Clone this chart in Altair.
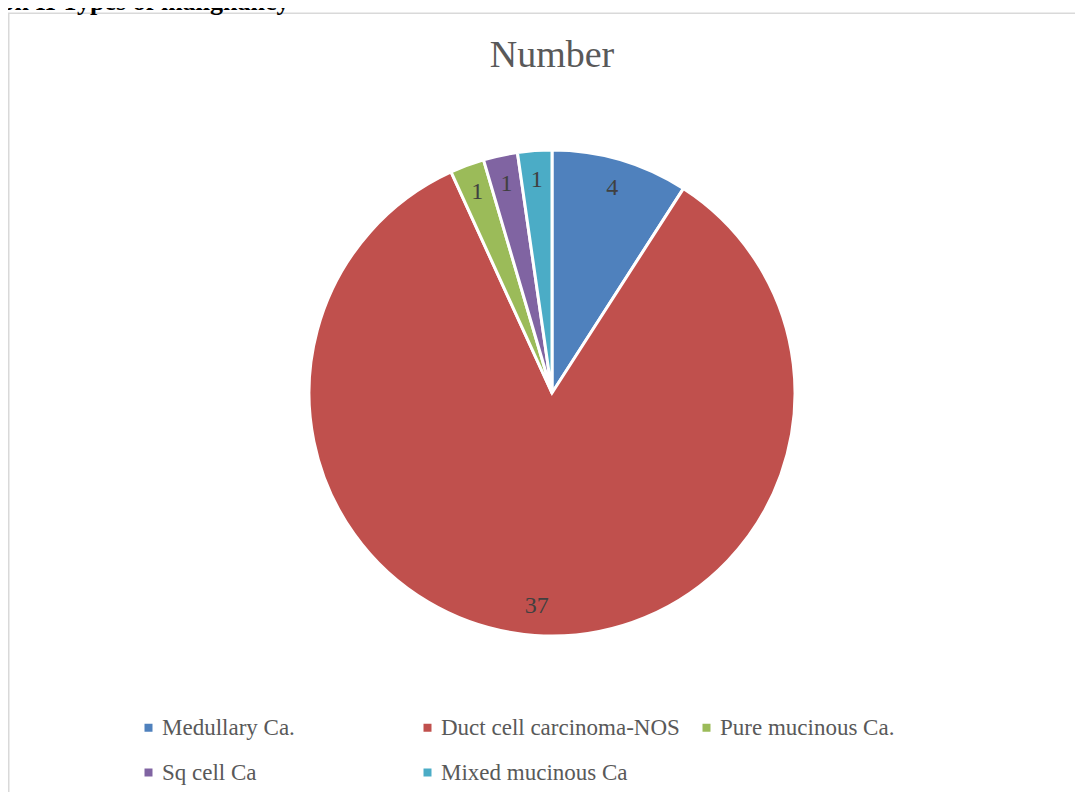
import altair as alt
import pandas as pd

categories = ["Medullary Ca.", "Duct cell carcinoma-NOS", "Pure mucinous Ca.", "Sq cell Ca", "Mixed mucinous Ca"]
values = [4, 37, 1, 1, 1]
colors = ["#4F81BD", "#C0504D", "#9BBB59", "#8064A2", "#4BACC6"]
chart_title = ["Number"]
page_heading = ["ph II Types of malignancy"]

df = pd.DataFrame({"category": categories, "value": values, "idx": list(range(len(categories)))})

FONT = "Liberation Serif"
CX, CY = 544, 385

theta = alt.Theta("value:Q", stack=True)
order = alt.Order("idx:Q", sort="ascending")
color = alt.Color(
    "category:N",
    scale=alt.Scale(domain=categories, range=colors),
    legend=alt.Legend(
        title=None, orient="none", legendX=129, legendY=708, columns=3,
        direction="horizontal",
        gridAlign="all", symbolType="square", symbolSize=64, symbolStrokeWidth=0,
        labelFont=FONT, labelFontSize=23, labelColor="#595959", labelOffset=2,
        columnPadding=15, rowPadding=21, padding=0, labelLimit=400,
    ),
)

pie = alt.Chart(df).mark_arc(outerRadius=243, stroke="white", strokeWidth=3).encode(
    theta=theta, order=order, color=color, x=alt.value(CX), y=alt.value(CY)
)

labels = alt.Chart(df).mark_text(
    radius=214, font=FONT, fontSize=24, color="#404040", baseline="middle", align="center"
).encode(theta=theta, order=order, text="value:Q", x=alt.value(CX), y=alt.value(CY))

frame = alt.Chart(pd.DataFrame({"k": [0]})).mark_rect(
    filled=False, stroke="#D9D9D9", strokeWidth=1.5
).encode(x=alt.value(0.75), x2=alt.value(1400), y=alt.value(5.3), y2=alt.value(1200))

title = alt.Chart(pd.DataFrame({"t": chart_title})).mark_text(
    font=FONT, fontSize=38, color="#595959", align="center", baseline="alphabetic"
).encode(text="t:N", x=alt.value(544), y=alt.value(59))

heading = alt.Chart(pd.DataFrame({"t": page_heading})).mark_text(
    font=FONT, fontSize=26, fontWeight="bold", color="#000000", align="left", baseline="alphabetic"
).encode(text="t:N", x=alt.value(-8), y=alt.value(2))

chart = alt.layer(frame, heading, title, pie, labels).properties(
    width=1067, height=784, autosize=alt.AutoSizeParams(type="none"), padding=0, background="white"
).configure_view(stroke=None)

chart.save("out.html", embed_options={"renderer": "svg", "actions": False})
